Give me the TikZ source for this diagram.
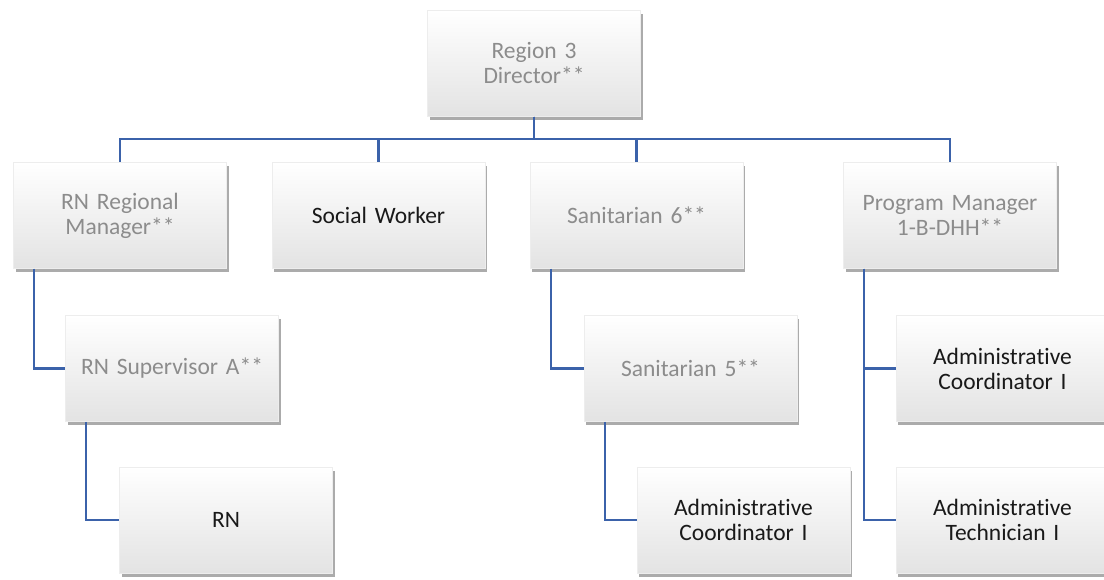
\documentclass[tikz,border=0pt]{standalone}
\usepackage{fontspec}
\setmainfont{Carlito}[Ligatures={NoCommon,NoRare,NoDiscretionary}]
\usepackage{xcolor}
\usetikzlibrary{shadows}

\definecolor{linkblue}{RGB}{59,98,170}
\definecolor{mgrgray}{RGB}{140,140,140}
\definecolor{staffblack}{RGB}{25,25,25}

\tikzset{
  orgbox/.style={rectangle, draw=black!7, line width=0.5pt,
    top color=white, middle color=white, bottom color=black!11,
    minimum width=213pt, minimum height=106pt, inner sep=0pt,
    text width=205pt, align=center,
    font=\fontsize{23.5}{25}\selectfont,
    drop shadow={shadow xshift=2pt, shadow yshift=-3.5pt, opacity=0.55, fill=black!60}},
  mgr/.style={orgbox, text=mgrgray},
  staff/.style={orgbox, text=staffblack},
  link/.style={draw=linkblue, line width=2.4pt}
}

\begin{document}
\begin{tikzpicture}[x=1pt, y=-1pt]
  \useasboundingbox (0,0) rectangle (1104,580);
  \clip (0,0) rectangle (1104,580);
  \fill[white] (0,0) rectangle (1104,580);
  % top level
  \node[mgr] (dir) at (534,63.5) {Region 3\\Director**};
  \coordinate (bus) at (0,139);
  % second level
  \node[mgr] (rnm) at (120,215.5) {RN Regional\\Manager**};
  \node[staff] (sw) at (378.5,215.5) {Social Worker};
  \node[mgr] (san6) at (636.5,215.5) {Sanitarian 6**};
  \node[mgr] (pm) at (950,215.5) {Program Manager\\1-B-DHH**};
  % third level
  \node[mgr] (rns) at (172,368.5) {RN Supervisor A**};
  \node[mgr] (san5) at (690.5,368.5) {Sanitarian 5**};
  \node[staff] (pmac) at (1002.5,368.5) {Administrative\\Coordinator I};
  % fourth level
  \node[staff] (rn) at (226,520) {RN};
  \node[staff] (sanac) at (743.5,520) {Administrative\\Coordinator I};
  \node[staff] (pmat) at (1002.5,520) {Administrative\\Technician I};
  % connectors
  \foreach \n in {rnm,sw,san6,pm}{
    \draw[link] (dir.south) -- (dir.south |- bus) -| (\n.north);
  }
  \draw[link] ([xshift=21pt]rnm.south west) |- (rns.west);
  \draw[link] ([xshift=21pt]rns.south west) |- (rn.west);
  \draw[link] ([xshift=21pt]san6.south west) |- (san5.west);
  \draw[link] ([xshift=21pt]san5.south west) |- (sanac.west);
  \draw[link] ([xshift=21pt]pm.south west) |- (pmac.west);
  \draw[link] ([xshift=21pt]pm.south west) |- (pmat.west);
\end{tikzpicture}
\end{document}
